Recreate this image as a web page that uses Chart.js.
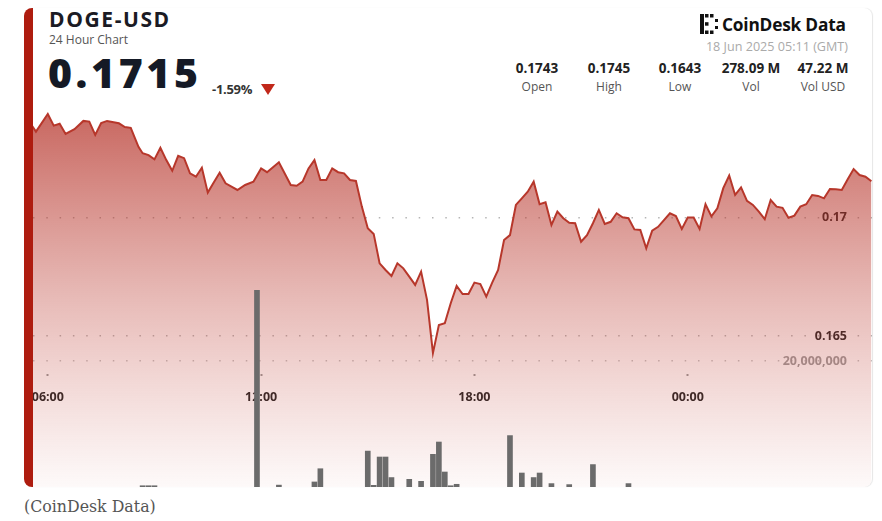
<!DOCTYPE html>
<html>
<head>
<meta charset="utf-8">
<title>DOGE-USD 24 Hour Chart</title>
<script src="https://cdn.jsdelivr.net/npm/chart.js@4.4.1/dist/chart.umd.min.js"></script>
<style>
  html, body { margin: 0; padding: 0; background: #fff; }
  body { width: 882px; height: 521px; position: relative; overflow: hidden; font-family: "Open Sans", sans-serif; }
  #card { position: absolute; left: 24px; top: 8px; width: 839px; height: 479px; border-left: 9px solid #ae1c0f;
          border-radius: 8px; overflow: hidden; background: #fff; box-shadow: 1px 0 1px rgba(0,0,0,0.10); }
  #plot { position: absolute; left: 0; top: 92px; }
  .t { position: absolute; white-space: nowrap; line-height: 1; }
  .title { left: 49px; top: 8.7px; font-size: 21px; font-weight: 700; color: #1b1b24; letter-spacing: 1.6px; }
  .sub { left: 49px; top: 34.3px; font-size: 12px; color: #555; }
  .price { left: 48px; top: 51.5px; font-size: 41px; font-weight: 800; color: #151a26; letter-spacing: 3.6px; }
  .chg { left: 212px; top: 82.5px; font-size: 13px; font-weight: 700; color: #333; letter-spacing: -0.3px; }
  .tri { position: absolute; left: 261px; top: 84px; width: 0; height: 0; border-left: 7.5px solid transparent;
         border-right: 7.5px solid transparent; border-top: 11px solid #c1281a; }
  .brand { left: 722px; top: 15.5px; font-size: 17.3px; font-weight: 700; color: #111; letter-spacing: -0.2px; }
  .date { right: 34px; top: 41px; font-size: 12.6px; color: #aaa; }
  .stat { width: 90px; text-align: center; }
  .val { top: 62px; font-size: 13.5px; font-weight: 700; color: #222; }
  .lab { top: 81px; font-size: 12px; color: #555; }
  .src { left: 24px; top: 498.5px; font-family: "DejaVu Serif", serif; font-size: 15.8px; color: #555; }
  #logo { position: absolute; left: 700px; top: 14px; }
</style>
</head>
<body>
<div id="card">
  <canvas id="plot" width="839" height="387"></canvas>
</div>

<div class="t title">DOGE-USD</div>
<div class="t sub">24 Hour Chart</div>
<div class="t price">0.1715</div>
<div class="t chg">-1.59%</div>
<div class="tri"></div>

<svg id="logo" width="20" height="20" viewBox="0 0 20 20">
  <rect x="0" y="0" width="4" height="20" fill="#111"/>
  <rect x="5" y="0" width="3.5" height="3.5" fill="#111"/>
  <rect x="10" y="0" width="3.5" height="3.5" fill="#111"/>
  <rect x="5" y="16.5" width="3.5" height="3.5" fill="#111"/>
  <rect x="10" y="16.5" width="3.5" height="3.5" fill="#111"/>
  <rect x="5" y="8.2" width="3.5" height="3.5" fill="#111"/>
  <rect x="15" y="5" width="3" height="3" fill="#111"/>
  <rect x="15" y="12" width="3" height="3" fill="#111"/>
</svg>
<div class="t brand">CoinDesk Data</div>
<div class="t date">18 Jun 2025 05:11 (GMT)</div>

<div class="t stat val" style="left:492px">0.1743</div>
<div class="t stat lab" style="left:492px">Open</div>
<div class="t stat val" style="left:564px">0.1745</div>
<div class="t stat lab" style="left:564px">High</div>
<div class="t stat val" style="left:635px">0.1643</div>
<div class="t stat lab" style="left:635px">Low</div>
<div class="t stat val" style="left:706px">278.09 M</div>
<div class="t stat lab" style="left:706px">Vol</div>
<div class="t stat val" style="left:778px">47.22 M</div>
<div class="t stat lab" style="left:778px">Vol USD</div>

<div class="t src">(CoinDesk Data)</div>

<script>
// minutes since 00:00 on 17 Jun (values past 1440 are the next day)
const priceTimes = [
  320, 340, 360, 370, 380, 390, 405, 420, 430, 440,
  450, 460, 480, 490, 500, 513, 520, 530, 540, 550,
  560, 570, 580, 590, 600, 610, 620, 630, 640, 650,
  660, 670, 680, 693, 707, 720, 730, 750, 770, 780,
  790, 800, 810, 820, 830, 840, 850, 860, 870, 880,
  890, 900, 910, 920, 930, 940, 950, 960, 970, 980,
  990, 1000, 1010, 1020, 1030, 1040, 1050, 1060, 1070, 1080,
  1090, 1100, 1110, 1120, 1130, 1140, 1150, 1160, 1170, 1180,
  1190, 1200, 1210, 1220, 1230, 1240, 1250, 1260, 1270, 1280,
  1290, 1300, 1310, 1320, 1330, 1340, 1350, 1360, 1370, 1380,
  1390, 1410, 1420, 1430, 1440, 1450, 1460, 1470, 1480, 1490,
  1500, 1510, 1520, 1530, 1540, 1550, 1560, 1570, 1580, 1590,
  1600, 1610, 1620, 1630, 1640, 1650, 1660, 1670, 1680, 1690,
  1700, 1710, 1720, 1730, 1740, 1750
];
const prices = [
  0.17435, 0.17361, 0.17435, 0.17386, 0.17394, 0.17351, 0.17371, 0.17406, 0.17403, 0.17347,
  0.17397, 0.17406, 0.17396, 0.17380, 0.17377, 0.17297, 0.17270, 0.17262, 0.17244, 0.17293,
  0.17241, 0.17196, 0.17259, 0.17249, 0.17185, 0.17171, 0.17209, 0.17104, 0.17147, 0.17188,
  0.17143, 0.17129, 0.17115, 0.17136, 0.17150, 0.17206, 0.17190, 0.17232, 0.17136, 0.17133,
  0.17150, 0.17206, 0.17241, 0.17157, 0.17157, 0.17206, 0.17190, 0.17185, 0.17157, 0.17153,
  0.17045, 0.16954, 0.16930, 0.16806, 0.16778, 0.16753, 0.16806, 0.16785, 0.16750, 0.16715,
  0.16771, 0.16652, 0.16428, 0.16546, 0.16554, 0.16638, 0.16711, 0.16677, 0.16677, 0.16725,
  0.16719, 0.16666, 0.16725, 0.16778, 0.16904, 0.16925, 0.17052, 0.17080, 0.17108, 0.17150,
  0.17055, 0.17063, 0.16968, 0.17024, 0.16996, 0.16977, 0.16975, 0.16897, 0.16925, 0.16975,
  0.17031, 0.16972, 0.16981, 0.17017, 0.17000, 0.16996, 0.16949, 0.16947, 0.16869, 0.16944,
  0.16960, 0.17017, 0.17005, 0.16951, 0.16999, 0.16999, 0.16951, 0.17055, 0.17004, 0.17038,
  0.17123, 0.17176, 0.17094, 0.17126, 0.17069, 0.17052, 0.17024, 0.16992, 0.17073, 0.17045,
  0.17040, 0.16998, 0.17007, 0.17045, 0.17055, 0.17094, 0.17090, 0.17080, 0.17119, 0.17118,
  0.17115, 0.17160, 0.17203, 0.17178, 0.17171, 0.17152
];

const volTimes = [520, 530, 540, 713, 750, 810, 820, 900, 910, 920, 930, 940, 970, 990,
                  1010, 1020, 1030, 1040, 1050, 1140, 1160, 1180, 1190, 1210, 1240, 1280, 1340];
const volumes = [200000, 200000, 200000, 31200000, 300000, 800000, 2900000, 5700000, 270000, 4760000,
                 4760000, 1500000, 1220000, 900000, 5190000, 7140000, 2380000, 200000, 430000, 8160000,
                 2220000, 1500000, 2220000, 540000, 380000, 3560000, 540000];

const timeTicks = [360, 720, 1080, 1440];
const priceTicks = [0.165, 0.17];
const volTicks = [20000000];

function hhmm(m) {
    const h = Math.floor(m / 60) % 24;
    const mm = m % 60;
    return String(h).padStart(2, '0') + ':' + String(mm).padStart(2, '0');
}

// no auto padding: the axes sit inside the plot
function noPad(s) {
    s.paddingLeft = 0;
    s.paddingRight = 0;
    s.paddingTop = 0;
    s.paddingBottom = 0;
    if (s.axis === 'y') s.width = 0;
}

const dotted = [1.5, 11.8];
const tickFont = { family: 'Open Sans', size: 12.5, weight: 'bold' };

const ctx = document.getElementById('plot');

new Chart(ctx, {
    type: 'line',
    data: {
        datasets: [{
            type: 'bar',
            data: volTimes.map((t, i) => ({ x: t, y: volumes[i] })),
            yAxisID: 'yv',
            backgroundColor: '#6b6b6b',
            barThickness: 5,
            order: 0
        }, {
            type: 'line',
            data: priceTimes.map((t, i) => ({ x: t, y: prices[i] })),
            yAxisID: 'y',
            borderColor: '#b7372b',
            borderWidth: 2,
            pointRadius: 0,
            tension: 0,
            fill: 'start',
            backgroundColor: function (c) {
                const area = c.chart.chartArea;
                if (!area) return 'rgba(180,50,40,0.3)';
                const g = c.chart.ctx.createLinearGradient(0, area.top, 0, area.bottom);
                g.addColorStop(0, 'rgba(178,42,32,0.74)');
                g.addColorStop(0.5, 'rgba(188,60,50,0.36)');
                g.addColorStop(1, 'rgba(200,80,70,0.03)');
                return g;
            },
            order: 1
        }]
    },
    options: {
        responsive: false,
        animation: false,
        events: [],
        layout: { padding: 0, autoPadding: false },
        plugins: { legend: { display: false }, tooltip: { enabled: false } },
        scales: {
            x: {
                type: 'linear',
                min: 335,
                max: 1751,
                offset: false,
                z: 1,
                position: { y: 0.1634 },
                afterFit: noPad,
                afterBuildTicks: s => { s.ticks = timeTicks.map(v => ({ value: v })); },
                ticks: {
                    callback: v => hhmm(v),
                    color: '#222',
                    font: tickFont,
                    padding: 14,
                    maxRotation: 0,
                    autoSkip: false
                },
                grid: { offset: false, drawOnChartArea: false, drawTicks: true, tickLength: 2, tickWidth: 2, tickColor: '#999' },
                border: { display: false }
            },
            y: {
                position: 'right',
                min: 0.158639,
                max: 0.174941,
                afterFit: noPad,
                afterBuildTicks: s => { s.ticks = priceTicks.map(v => ({ value: v })); },
                ticks: {
                    mirror: true,
                    padding: -25,
                    callback: v => String(v),
                    color: '#222',
                    font: tickFont
                },
                grid: { drawTicks: false, color: 'rgba(120,120,120,0.55)', lineWidth: 1.5 },
                border: { display: false, dash: dotted }
            },
            yv: {
                position: 'right',
                min: 0,
                max: 61430000,
                afterFit: noPad,
                afterBuildTicks: s => { s.ticks = volTicks.map(v => ({ value: v })); },
                ticks: {
                    mirror: true,
                    padding: -25,
                    callback: v => v.toLocaleString('en-US'),
                    color: '#9c9c9c',
                    font: tickFont
                },
                grid: { drawTicks: false, color: 'rgba(120,120,120,0.45)', lineWidth: 1.5 },
                border: { display: false, dash: dotted }
            }
        }
    }
});
</script>
</body>
</html>
